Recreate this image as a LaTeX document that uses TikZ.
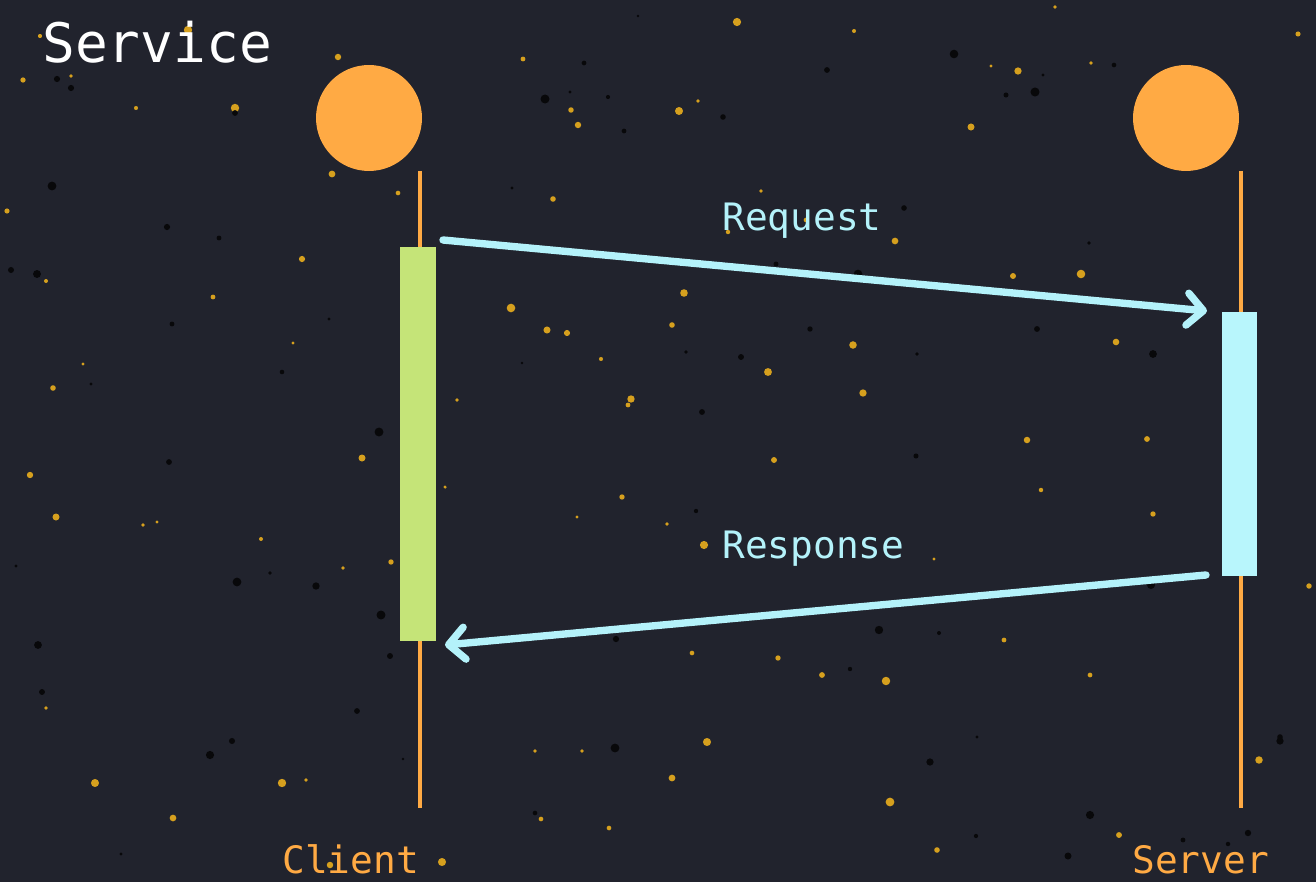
\documentclass[tikz,border=0pt]{standalone}
\usepackage{fontspec}
\setmonofont{DejaVu Sans Mono}
\usepackage{tikz}
\usetikzlibrary{arrows.meta,positioning}

\definecolor{nightbg}{RGB}{33,35,45}
\definecolor{actororange}{RGB}{255,170,68}
\definecolor{barlime}{RGB}{197,228,120}
\definecolor{barcyan}{RGB}{184,246,252}
\definecolor{msgcyan}{RGB}{180,242,250}
\definecolor{speckgold}{RGB}{214,160,30}
\definecolor{speckdark}{RGB}{8,8,10}

\tikzset{
  actor/.style={circle, fill=actororange, minimum size=2.12cm, inner sep=0pt},
  lifeline/.style={draw=actororange, line width=2.2pt},
  activebar/.style={rectangle, inner sep=0pt, minimum width=0.71cm},
  msg/.style={draw=msgcyan, line width=4.2pt, line cap=round,
    -{Straight Barb[length=3.2mm,width=6.4mm,round]}},
  msglabel/.style={text=msgcyan, font=\ttfamily\fontsize{21.5}{24}\selectfont, anchor=base west, inner sep=0pt},
  actorlabel/.style={text=actororange, font=\ttfamily\fontsize{21.5}{24}\selectfont, anchor=base west, inner sep=0pt}
}

\begin{document}
\begin{tikzpicture}[x=0.02cm, y=-0.02cm]

  \useasboundingbox (0,0) rectangle (1316,882);
  \fill[nightbg] (0,0) rectangle (1316,882);

  \pgfmathsetseed{2718}
  \foreach \i in {1,...,95}{
    \pgfmathsetmacro\px{random(5,1311)}
    \pgfmathsetmacro\py{random(5,877)}
    \pgfmathsetmacro\pr{0.9+1.6*rnd}
    \fill[speckgold] (\px,\py) circle[radius=\pr pt];
  }
  \foreach \i in {1,...,75}{
    \pgfmathsetmacro\px{random(5,1311)}
    \pgfmathsetmacro\py{random(5,877)}
    \pgfmathsetmacro\pr{0.8+1.8*rnd}
    \fill[speckdark] (\px,\py) circle[radius=\pr pt];
  }

  \node[text=white, font=\ttfamily\fontsize{31}{36}\selectfont, anchor=base west, inner sep=0pt] (title) at (42,63) {Service};

  \node[actor] (client) at (369,118) {};
  \node[actor] (server) at (1186,118) {};

  \coordinate (clienttop) at (420,171);
  \coordinate (clientend) at (420,808);
  \coordinate (servertop) at (1241,171);
  \coordinate (serverend) at (1241,808);
  \draw[lifeline] (clienttop) -- (clientend);
  \draw[lifeline] (servertop) -- (serverend);

  \node[activebar, fill=barlime, minimum height=7.88cm] (clientbar) at (418,444) {};
  \node[activebar, fill=barcyan, minimum height=5.28cm] (serverbar) at (1239.5,444) {};

  \coordinate (reqfrom) at (443,240);
  \coordinate (reqto) at (1207,311);
  \coordinate (resfrom) at (1206,575);
  \coordinate (resto) at (445,645);
  \draw[msg] (reqfrom) -- (reqto);
  \draw[msg] (resfrom) -- (resto);

  \node[msglabel] (reqlabel) at (722,231) {Request};
  \node[msglabel] (reslabel) at (722,558) {Response};

  \node[actorlabel] (clientlabel) at (282,873) {Client};
  \node[actorlabel] (serverlabel) at (1132,873) {Server};

\end{tikzpicture}
\end{document}
